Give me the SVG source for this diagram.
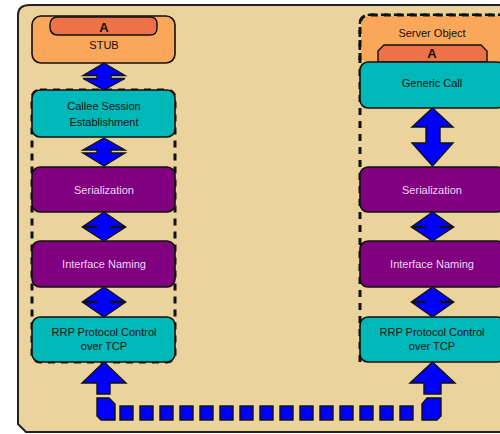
<svg xmlns="http://www.w3.org/2000/svg" width="500" height="434" viewBox="0 0 500 434">
<style>
.t{font-family:"Liberation Sans",Arial,sans-serif;font-size:11px;text-anchor:middle;fill:#111}
.tl{font-family:"Liberation Sans",Arial,sans-serif;font-size:11px;text-anchor:middle;fill:#F2D6F2}
.ta{font-family:"Liberation Sans",Arial,sans-serif;font-size:13px;font-weight:bold;text-anchor:middle;fill:#111}
.box{stroke:#111;stroke-width:1.6}
.teal{fill:#00B8B8}
.pur{fill:#800080}
.org{fill:#FBA75B}
.red{fill:#EE7248;stroke:#111;stroke-width:1.4}
.dash{fill:none;stroke:#111;stroke-width:3;stroke-dasharray:7 6}
.arr{fill:#0000FF;stroke:#111;stroke-width:1.4;stroke-linejoin:miter}
</style>
<path d="M18,15 Q18,5 30,5 H510 V432 H26 L18,424 Z" fill="#EBD39E" stroke="#222" stroke-width="2"/>
<g id="dashes">
<rect class="dash" x="32" y="90" width="143" height="272" rx="8"/>
<path class="dash" d="M360,362 V25 Q360,15 370,15 H510"/>
</g>
<g id="stub">
<rect class="box org" x="32" y="16" width="143" height="47" rx="9"/>
<path class="red" d="M58,17 H150 Q157,17 157,24 V28 Q157,35 150,35 H58 Q50,35 50,27 V25 Q50,17 58,17 Z"/>
<text class="ta" x="104" y="32">A</text>
<text class="t" x="104" y="49">STUB</text>
</g>
<g id="callee">
<rect class="box teal" x="32" y="90" width="143" height="47" rx="8"/>
<text class="t" x="104" y="110">Callee Session</text>
<text class="t" x="104" y="126">Establishment</text>
</g>
<g id="ser-l">
<rect class="box pur" x="32" y="167" width="143" height="45" rx="8"/>
<text class="tl" x="104" y="194">Serialization</text>
</g>
<g id="iface-l">
<rect class="box pur" x="32" y="241" width="143" height="46" rx="8"/>
<text class="tl" x="104" y="268">Interface Naming</text>
</g>
<g id="rrp-l">
<rect class="box teal" x="32" y="317" width="143" height="45" rx="8"/>
<text class="t" x="104" y="336">RRP Protocol Control</text>
<text class="t" x="104" y="350">over TCP</text>
</g>
<g id="server">
<rect class="org" x="361" y="16" width="150" height="47" rx="8"/>
<path class="dash" d="M360,60 V25 Q360,15 370,15 H510"/>
<text class="t" x="432" y="37">Server Object</text>
<path class="red" d="M384,45 H481 L487,51 V62 H378 V51 Z"/>
<text class="ta" x="432" y="58">A</text>
</g>
<g id="generic">
<rect class="box teal" x="360" y="62" width="145" height="46" rx="8"/>
<text class="t" x="432" y="87">Generic Call</text>
</g>
<g id="ser-r">
<rect class="box pur" x="360" y="167" width="145" height="45" rx="8"/>
<text class="tl" x="432" y="194">Serialization</text>
</g>
<g id="iface-r">
<rect class="box pur" x="360" y="241" width="145" height="46" rx="8"/>
<text class="tl" x="432" y="268">Interface Naming</text>
</g>
<g id="rrp-r">
<rect class="box teal" x="360" y="317" width="145" height="45" rx="8"/>
<text class="t" x="432" y="336">RRP Protocol Control</text>
<text class="t" x="432" y="350">over TCP</text>
</g>
<g id="connectors">
<path class="arr" d="M104,63 L125,75.5 H111 V78.5 H125 L104,90 L83,78.5 H97 V75.5 H83 Z"/>
<path class="arr" d="M104,138 L125,150 H111 V153 H125 L104,166 L83,153 H97 V150 H83 Z"/>
<path class="arr" d="M104,212 L125,226.5 H111 V227.5 H125 L104,241 L83,227.5 H97 V226.5 H83 Z"/>
<path class="arr" d="M104,287 L125,301.5 H111 V302.5 H125 L104,317 L83,302.5 H97 V301.5 H83 Z"/>
<path class="arr" d="M432.5,108 L453,127 H440 V143 H453 L432.5,166 L412,143 H426 V127 H412 Z"/>
<path class="arr" d="M432.5,212 L453,226.5 H440 V227.5 H453 L432.5,241 L412,227.5 H425 V226.5 H412 Z"/>
<path class="arr" d="M432.5,287 L453,301.5 H440 V302.5 H453 L432.5,317 L412,302.5 H425 V301.5 H412 Z"/>
<path class="arr" d="M104,362 L126,383 H110 V394 H97 V383 L82,383 Z"/>
<path class="arr" d="M432.5,362 L455,383 H441 V394 H424 V383 H410 Z"/>
<path class="arr" d="M97,398 H109 L115,404 V420 H101 L97,416 Z"/>
<path class="arr" d="M427,398 H441 V416 L437,420 H422 V404 Z"/>
<g class="arr">
<rect x="120" y="406" width="13" height="14"/><rect x="140" y="406" width="13" height="14"/>
<rect x="160" y="406" width="13" height="14"/><rect x="180" y="406" width="13" height="14"/>
<rect x="200" y="406" width="13" height="14"/><rect x="220" y="406" width="13" height="14"/>
<rect x="240" y="406" width="13" height="14"/><rect x="260" y="406" width="13" height="14"/>
<rect x="280" y="406" width="13" height="14"/><rect x="300" y="406" width="13" height="14"/>
<rect x="320" y="406" width="13" height="14"/><rect x="340" y="406" width="13" height="14"/>
<rect x="360" y="406" width="13" height="14"/><rect x="380" y="406" width="13" height="14"/>
<rect x="400" y="406" width="13" height="14"/>
</g>
</g>
</svg>
